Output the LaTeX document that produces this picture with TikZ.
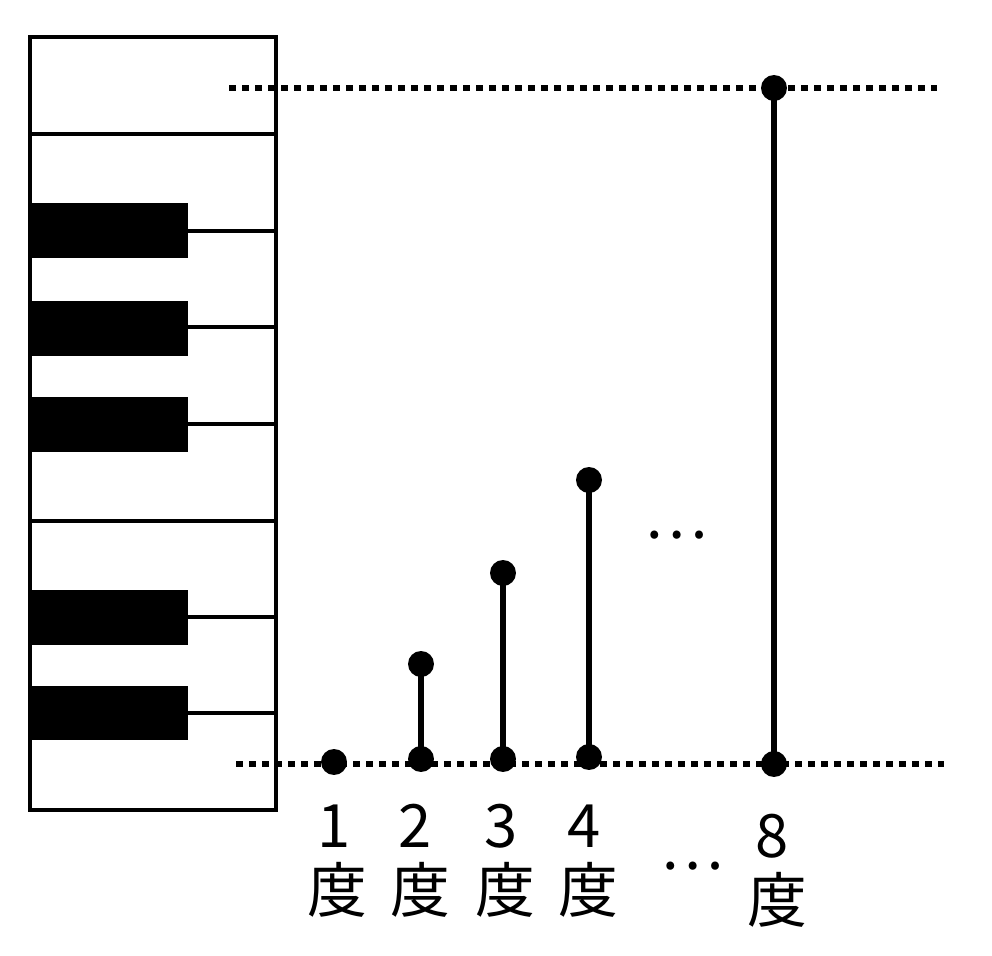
\documentclass[tikz,border=0pt]{standalone}
\usepackage{fontspec}
\newfontfamily\cjk{Noto Sans CJK JP}
\tikzset{
  keyline/.style={line width=1.8pt},
  blackkey/.style={fill=black,draw=none},
  dotline/.style={line width=3.7pt,dash pattern=on 3.7pt off 3.7pt},
  pt/.style={circle,fill=black,inner sep=0pt,minimum size=0.52cm},
  stem/.style={line width=3.2pt},
  lbl/.style={font=\cjk\fontsize{34}{34}\selectfont,inner sep=0pt,anchor=base}
}
\begin{document}
\begin{tikzpicture}[x=0.02cm,y=-0.02cm]
\useasboundingbox (0,0) rectangle (992,956);
% black keys
\foreach \a/\b in {203/258,301/356,397/452,590/645,686/740}
  \fill[blackkey] (30,\a) rectangle (188,\b);
% piano outline
\draw[keyline] (30,37) rectangle (276,810);
\draw[keyline] (30,134) -- (276,134);
\draw[keyline] (30,521) -- (276,521);
\foreach \y in {231,327,424,617,713}
  \draw[keyline] (188,\y) -- (276,\y);
% dotted reference lines
\coordinate (tl) at (229,88);
\coordinate (tr) at (937,88);
\coordinate (bl) at (236,764);
\coordinate (br) at (944,764);
\draw[dotline] (tl) -- (tr);
\draw[dotline] (bl) -- (br);
% points
\node[pt] (p1) at (334,762) {};
\node[pt] (p2b) at (421,759) {};
\node[pt] (p2t) at (421,664) {};
\node[pt] (p3b) at (503,759) {};
\node[pt] (p3t) at (503,573) {};
\node[pt] (p4b) at (589,757) {};
\node[pt] (p4t) at (589,480) {};
\node[pt] (p8b) at (774,764) {};
\node[pt] (p8t) at (774,88) {};
\draw[stem] (p2b.center) -- (p2t.center);
\draw[stem] (p3b.center) -- (p3t.center);
\draw[stem] (p4b.center) -- (p4t.center);
\draw[stem] (p8b.center) -- (p8t.center);
% labels
\node[lbl] (n1) at (334,847) {1};
\node[lbl] (n2) at (415,847) {2};
\node[lbl] (n3) at (501,847) {3};
\node[lbl] (n4) at (584,847) {4};
\node[lbl] (n8) at (772,857) {8};
\node[lbl] (d1) at (337,912) {度};
\node[lbl] (d2) at (420,912) {度};
\node[lbl] (d3) at (505,912) {度};
\node[lbl] (d4) at (588,912) {度};
\node[lbl] (d8) at (777,922) {度};
\node[lbl] (e1) at (676,539) {…};
\node[lbl] (e2) at (692,869) {…};
\end{tikzpicture}
\end{document}
